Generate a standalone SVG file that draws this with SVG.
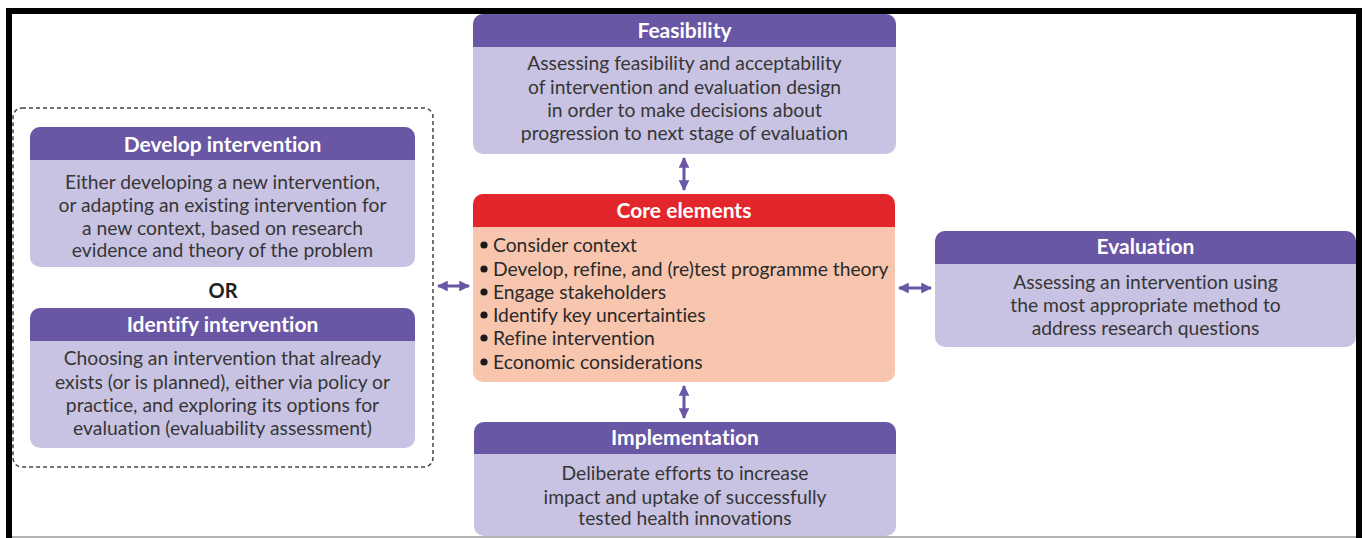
<svg xmlns="http://www.w3.org/2000/svg" width="1367" height="538" viewBox="0 0 1367 538">
<style>
text{font-variant-ligatures:none;font-feature-settings:"liga" 0,"clig" 0}
.hd{fill:#6956a5}
.bd{fill:#c9c3e3}
.t{font-family:Lato,"Liberation Sans",sans-serif;font-size:19.3px;fill:#363636;text-anchor:middle}
.h{font-family:Lato,"Liberation Sans",sans-serif;font-size:21px;font-weight:bold;fill:#fff;text-anchor:middle}
.b{font-family:Lato,"Liberation Sans",sans-serif;font-size:19.3px;fill:#2a2a2a}
.arr{stroke:#6956a5;stroke-width:3;fill:none;marker-start:url(#ah);marker-end:url(#ah)}
</style>
<defs>
<marker id="ah" viewBox="0 0 10 10" refX="9" refY="5" markerWidth="3.6" markerHeight="3.6" orient="auto-start-reverse" markerUnits="strokeWidth">
<path d="M0,0 L10,5 L0,10 z" fill="#6956a5"/>
</marker>
</defs>
<rect width="1367" height="538" fill="#fff"/>
<line x1="12" y1="537" x2="1356" y2="537" stroke="#9a9a9a" stroke-width="1.5"/>
<path d="M9,538 V11 H1359 V538" fill="none" stroke="#000" stroke-width="6"/>

<g id="group-left">
<rect x="13" y="108" width="420" height="359" rx="9" fill="none" stroke="#444" stroke-width="1.5" stroke-dasharray="4 3"/>
<text class="h" x="223" y="298" style="fill:#222;font-size:20px">OR</text>
</g>

<g id="develop">
<rect x="30" y="127" width="385" height="140" rx="10" class="bd"/>
<path d="M30,160 V137 a10,10 0 0 1 10,-10 H405 a10,10 0 0 1 10,10 V160 z" class="hd"/>
<text class="h" x="222.5" y="151.5">Develop intervention</text>
<text class="t" x="222.5" y="188.5">Either developing a new intervention,</text>
<text class="t" x="222.5" y="211.5">or adapting an existing intervention for</text>
<text class="t" x="222.5" y="234.5">a new context, based on research</text>
<text class="t" x="222.5" y="256.5">evidence and theory of the problem</text>
</g>

<g id="identify">
<rect x="30" y="308" width="385" height="140" rx="10" class="bd"/>
<path d="M30,341 V318 a10,10 0 0 1 10,-10 H405 a10,10 0 0 1 10,10 V341 z" class="hd"/>
<text class="h" x="222.5" y="331.5">Identify intervention</text>
<text class="t" x="222.5" y="364.5">Choosing an intervention that already</text>
<text class="t" x="222.5" y="388.5">exists (or is planned), either via policy or</text>
<text class="t" x="222.5" y="411.5">practice, and exploring its options for</text>
<text class="t" x="222.5" y="434.5">evaluation (evaluability assessment)</text>
</g>

<g id="feasibility">
<rect x="473" y="14" width="423" height="140" rx="10" class="bd"/>
<path d="M473,47 V24 a10,10 0 0 1 10,-10 H886 a10,10 0 0 1 10,10 V47 z" class="hd"/>
<text class="h" x="684.5" y="37.5">Feasibility</text>
<text class="t" x="684.5" y="69.5">Assessing feasibility and acceptability</text>
<text class="t" x="684.5" y="93.5">of intervention and evaluation design</text>
<text class="t" x="684.5" y="116.5">in order to make decisions about</text>
<text class="t" x="684.5" y="139.5">progression to next stage of evaluation</text>
</g>

<g id="core">
<rect x="473" y="194" width="422" height="188" rx="10" fill="#f8c5ae"/>
<path d="M473,227 V204 a10,10 0 0 1 10,-10 H885 a10,10 0 0 1 10,10 V227 z" fill="#e3262c"/>
<text class="h" x="684" y="217.5">Core elements</text>
<g fill="#1a1a1a">
<circle cx="484" cy="245" r="3.6"/>
<circle cx="484" cy="269" r="3.6"/>
<circle cx="484" cy="292" r="3.6"/>
<circle cx="484" cy="315" r="3.6"/>
<circle cx="484" cy="338" r="3.6"/>
<circle cx="484" cy="362" r="3.6"/>
</g>
<text class="b" x="493" y="251.5">Consider context</text>
<text class="b" x="493" y="275.5">Develop, refine, and (re)test programme theory</text>
<text class="b" x="493" y="298.5">Engage stakeholders</text>
<text class="b" x="493" y="321.5">Identify key uncertainties</text>
<text class="b" x="493" y="344.5">Refine intervention</text>
<text class="b" x="493" y="368.5">Economic considerations</text>
</g>

<g id="evaluation">
<rect x="935" y="231" width="421" height="116" rx="10" class="bd"/>
<path d="M935,264 V241 a10,10 0 0 1 10,-10 H1346 a10,10 0 0 1 10,10 V264 z" class="hd"/>
<text class="h" x="1145.5" y="253.5">Evaluation</text>
<text class="t" x="1145.5" y="288.5">Assessing an intervention using</text>
<text class="t" x="1145.5" y="311.5">the most appropriate method to</text>
<text class="t" x="1145.5" y="334.5">address research questions</text>
</g>

<g id="implementation">
<rect x="474" y="422" width="422" height="114" rx="10" class="bd"/>
<path d="M474,454 V432 a10,10 0 0 1 10,-10 H886 a10,10 0 0 1 10,10 V454 z" class="hd"/>
<text class="h" x="685" y="444.5">Implementation</text>
<text class="t" x="685" y="479.5">Deliberate efforts to increase</text>
<text class="t" x="685" y="503.5">impact and uptake of successfully</text>
<text class="t" x="685" y="524.5">tested health innovations</text>
</g>

<g id="connectors">
<line class="arr" x1="684" y1="158" x2="684" y2="190"/>
<line class="arr" x1="684" y1="386" x2="684" y2="418"/>
<line class="arr" x1="438" y1="286" x2="469" y2="286"/>
<line class="arr" x1="899" y1="288" x2="931" y2="288"/>
</g>
</svg>
